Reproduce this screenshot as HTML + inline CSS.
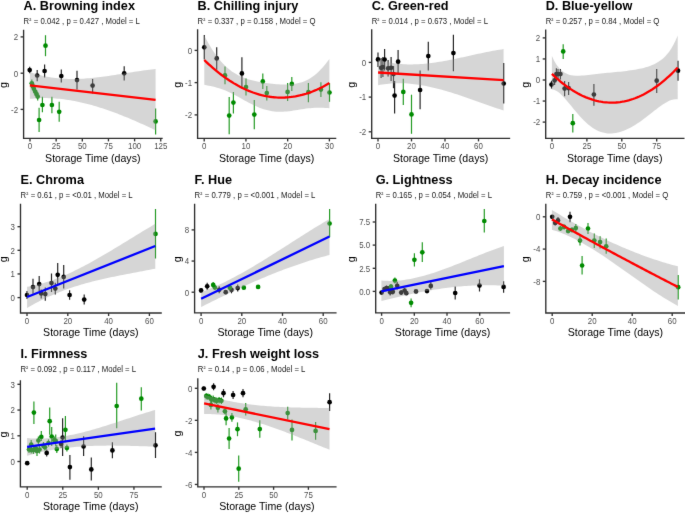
<!DOCTYPE html>
<html><head><meta charset="utf-8"><style>
html,body{margin:0;padding:0;background:#fff;}
svg{display:block;}
text{font-family:"Liberation Sans",sans-serif;}
.ti{font-size:12.7px;font-weight:bold;fill:#000;}
.st{font-size:8.2px;fill:#1a1a1a;}
.sup{font-size:6.6px;}
.tk{font-size:9.2px;fill:#4d4d4d;}
.ax{font-size:10.6px;fill:#000;}
</style></head><body>
<svg width="685" height="513" viewBox="0 0 685 513">
<defs><filter id="soft" x="0" y="0" width="685" height="513" filterUnits="userSpaceOnUse" color-interpolation-filters="sRGB"><feConvolveMatrix order="3" kernelMatrix="1 12 1 12 144 12 1 12 1" edgeMode="duplicate"/></filter></defs>
<g filter="url(#soft)">
<rect width="685" height="513" fill="#fff"/>
<line x1="29.7" y1="66.7" x2="29.7" y2="73.3" stroke="#000000" stroke-width="1.2" stroke-opacity="0.85"/>
<circle cx="29.7" cy="70.1" r="2.35" fill="#000000"/>
<line x1="37.2" y1="69.9" x2="37.2" y2="81.3" stroke="#000000" stroke-width="1.2" stroke-opacity="0.85"/>
<circle cx="37.2" cy="75.5" r="2.35" fill="#000000"/>
<line x1="44.6" y1="64.4" x2="44.6" y2="77.4" stroke="#000000" stroke-width="1.2" stroke-opacity="0.85"/>
<circle cx="44.6" cy="71" r="2.35" fill="#000000"/>
<line x1="61.3" y1="69.4" x2="61.3" y2="82.4" stroke="#000000" stroke-width="1.2" stroke-opacity="0.85"/>
<circle cx="61.3" cy="76" r="2.35" fill="#000000"/>
<line x1="77" y1="70.8" x2="77" y2="89.4" stroke="#000000" stroke-width="1.2" stroke-opacity="0.85"/>
<circle cx="77" cy="80.1" r="2.35" fill="#000000"/>
<line x1="92.6" y1="79" x2="92.6" y2="93.4" stroke="#000000" stroke-width="1.2" stroke-opacity="0.85"/>
<circle cx="92.6" cy="85.6" r="2.35" fill="#000000"/>
<line x1="124.2" y1="66.2" x2="124.2" y2="80.4" stroke="#000000" stroke-width="1.2" stroke-opacity="0.85"/>
<circle cx="124.2" cy="73.3" r="2.35" fill="#000000"/>
<line x1="45.5" y1="35.2" x2="45.5" y2="56.2" stroke="#008b00" stroke-width="1.2" stroke-opacity="0.85"/>
<circle cx="45.5" cy="45.7" r="2.35" fill="#008b00"/>
<line x1="42.4" y1="96.8" x2="42.4" y2="112.3" stroke="#008b00" stroke-width="1.2" stroke-opacity="0.85"/>
<circle cx="42.4" cy="105" r="2.35" fill="#008b00"/>
<line x1="39.1" y1="107.7" x2="39.1" y2="132.1" stroke="#008b00" stroke-width="1.2" stroke-opacity="0.85"/>
<circle cx="39.1" cy="120" r="2.35" fill="#008b00"/>
<line x1="51.9" y1="96.8" x2="51.9" y2="113.2" stroke="#008b00" stroke-width="1.2" stroke-opacity="0.85"/>
<circle cx="51.9" cy="105" r="2.35" fill="#008b00"/>
<line x1="59.2" y1="101.8" x2="59.2" y2="121.8" stroke="#008b00" stroke-width="1.2" stroke-opacity="0.85"/>
<circle cx="59.2" cy="111.8" r="2.35" fill="#008b00"/>
<line x1="155.6" y1="108.6" x2="155.6" y2="134.4" stroke="#008b00" stroke-width="1.2" stroke-opacity="0.85"/>
<circle cx="155.6" cy="121.4" r="2.35" fill="#008b00"/>
<line x1="31.8" y1="79.4" x2="31.8" y2="87.4" stroke="#008b00" stroke-width="1.2" stroke-opacity="0.85"/>
<circle cx="31.8" cy="83.3" r="2.35" fill="#008b00"/>
<line x1="32.8" y1="82.4" x2="32.8" y2="89.9" stroke="#008b00" stroke-width="1.2" stroke-opacity="0.85"/>
<circle cx="32.8" cy="86.2" r="2.35" fill="#008b00"/>
<line x1="33.8" y1="84.9" x2="33.8" y2="92.4" stroke="#008b00" stroke-width="1.2" stroke-opacity="0.85"/>
<circle cx="33.8" cy="88.7" r="2.35" fill="#008b00"/>
<line x1="35.2" y1="87.9" x2="35.2" y2="95.4" stroke="#008b00" stroke-width="1.2" stroke-opacity="0.85"/>
<circle cx="35.2" cy="91.6" r="2.35" fill="#008b00"/>
<line x1="36.5" y1="90.4" x2="36.5" y2="97.9" stroke="#008b00" stroke-width="1.2" stroke-opacity="0.85"/>
<circle cx="36.5" cy="94" r="2.35" fill="#008b00"/>
<line x1="37.7" y1="92.9" x2="37.7" y2="100.4" stroke="#008b00" stroke-width="1.2" stroke-opacity="0.85"/>
<circle cx="37.7" cy="96.5" r="2.35" fill="#008b00"/>
<polygon points="29.9,71.95 32.03,72.71 34.16,73.41 36.29,74.07 38.42,74.68 40.55,75.25 42.68,75.77 44.81,76.24 46.94,76.68 49.07,77.07 51.21,77.42 53.34,77.74 55.47,78.01 57.6,78.25 59.73,78.45 61.86,78.62 63.99,78.76 66.12,78.86 68.25,78.93 70.38,78.97 72.51,78.99 74.64,78.97 76.77,78.93 78.9,78.86 81.03,78.77 83.16,78.66 85.29,78.52 87.42,78.36 89.55,78.18 91.68,77.99 93.82,77.77 95.95,77.54 98.08,77.3 100.21,77.04 102.34,76.76 104.47,76.48 106.6,76.18 108.73,75.88 110.86,75.56 112.99,75.24 115.12,74.91 117.25,74.58 119.38,74.24 121.51,73.9 123.64,73.56 125.77,73.21 127.9,72.87 130.03,72.53 132.16,72.19 134.29,71.86 136.43,71.53 138.56,71.2 140.69,70.89 142.82,70.58 144.95,70.28 147.08,69.99 149.21,69.71 151.34,69.45 153.47,69.2 155.6,68.97 155.6,130.28 153.47,129.28 151.34,128.28 149.21,127.28 147.08,126.3 144.95,125.32 142.82,124.36 140.69,123.4 138.56,122.45 136.43,121.51 134.29,120.58 132.16,119.67 130.03,118.76 127.9,117.87 125.77,116.99 123.64,116.13 121.51,115.28 119.38,114.44 117.25,113.62 115.12,112.81 112.99,112.02 110.86,111.24 108.73,110.48 106.6,109.74 104.47,109.02 102.34,108.31 100.21,107.63 98.08,106.96 95.95,106.32 93.82,105.69 91.68,105.08 89.55,104.5 87.42,103.94 85.29,103.4 83.16,102.88 81.03,102.39 78.9,101.92 76.77,101.47 74.64,101.05 72.51,100.66 70.38,100.29 68.25,99.94 66.12,99.63 63.99,99.34 61.86,99.08 59.73,98.85 57.6,98.64 55.47,98.47 53.34,98.32 51.21,98.21 49.07,98.13 46.94,98.08 44.81,98.06 42.68,98.07 40.55,98.12 38.42,98.2 36.29,98.31 34.16,98.46 32.03,98.64 29.9,98.86" fill="#999999" fill-opacity="0.4"/>
<path d="M29.9,85.4 L155.6,99.8" fill="none" stroke="#ff0000" stroke-width="2.3" stroke-linejoin="round"/>
<path d="M23.6,30.3 L23.6,138.4 L162,138.4" fill="none" stroke="#2e2e2e" stroke-width="1.35" stroke-linecap="square"/>
<line x1="20.6" y1="36.9" x2="23.6" y2="36.9" stroke="#333333" stroke-width="1.35"/>
<text transform="translate(18.1,40.2) scale(0.86,1)" text-anchor="end" class="tk">2</text>
<line x1="20.6" y1="73.2" x2="23.6" y2="73.2" stroke="#333333" stroke-width="1.35"/>
<text transform="translate(18.1,76.5) scale(0.86,1)" text-anchor="end" class="tk">0</text>
<line x1="20.6" y1="109.4" x2="23.6" y2="109.4" stroke="#333333" stroke-width="1.35"/>
<text transform="translate(18.1,112.7) scale(0.86,1)" text-anchor="end" class="tk">-2</text>
<line x1="30" y1="138.4" x2="30" y2="141.4" stroke="#333333" stroke-width="1.35"/>
<text transform="translate(30,149.2) scale(0.86,1)" text-anchor="middle" class="tk">0</text>
<line x1="56.15" y1="138.4" x2="56.15" y2="141.4" stroke="#333333" stroke-width="1.35"/>
<text transform="translate(56.15,149.2) scale(0.86,1)" text-anchor="middle" class="tk">25</text>
<line x1="82.3" y1="138.4" x2="82.3" y2="141.4" stroke="#333333" stroke-width="1.35"/>
<text transform="translate(82.3,149.2) scale(0.86,1)" text-anchor="middle" class="tk">50</text>
<line x1="108.45" y1="138.4" x2="108.45" y2="141.4" stroke="#333333" stroke-width="1.35"/>
<text transform="translate(108.45,149.2) scale(0.86,1)" text-anchor="middle" class="tk">75</text>
<line x1="134.6" y1="138.4" x2="134.6" y2="141.4" stroke="#333333" stroke-width="1.35"/>
<text transform="translate(134.6,149.2) scale(0.86,1)" text-anchor="middle" class="tk">100</text>
<line x1="160.75" y1="138.4" x2="160.75" y2="141.4" stroke="#333333" stroke-width="1.35"/>
<text transform="translate(160.75,149.2) scale(0.86,1)" text-anchor="middle" class="tk">125</text>
<text x="92.8" y="161.6" text-anchor="middle" class="ax">Storage Time (days)</text>
<text transform="translate(7.16,84.95) rotate(-90)" text-anchor="middle" class="ax">g</text>
<text x="23.6" y="9.9" class="ti">A. Browning index</text>
<text transform="translate(23.6,23.5) scale(0.95,1)" class="st">R<tspan class="sup" dy="-1.4">²</tspan><tspan dy="1.4" dx="0.3"> </tspan>= 0.042 , p = 0.427 , Model = L</text>
<line x1="204.3" y1="35" x2="204.3" y2="59.6" stroke="#000000" stroke-width="1.2" stroke-opacity="0.85"/>
<circle cx="204.3" cy="47.3" r="2.35" fill="#000000"/>
<line x1="216.7" y1="47.3" x2="216.7" y2="69.8" stroke="#000000" stroke-width="1.2" stroke-opacity="0.85"/>
<circle cx="216.7" cy="58.4" r="2.35" fill="#000000"/>
<line x1="241.9" y1="57.3" x2="241.9" y2="88.6" stroke="#000000" stroke-width="1.2" stroke-opacity="0.85"/>
<circle cx="241.9" cy="73.4" r="2.35" fill="#000000"/>
<line x1="225" y1="66.6" x2="225" y2="84.3" stroke="#008b00" stroke-width="1.2" stroke-opacity="0.85"/>
<circle cx="225" cy="75.4" r="2.35" fill="#008b00"/>
<line x1="229.2" y1="96.9" x2="229.2" y2="134.3" stroke="#008b00" stroke-width="1.2" stroke-opacity="0.85"/>
<circle cx="229.2" cy="115.6" r="2.35" fill="#008b00"/>
<line x1="233.4" y1="92.1" x2="233.4" y2="113.6" stroke="#008b00" stroke-width="1.2" stroke-opacity="0.85"/>
<circle cx="233.4" cy="102.6" r="2.35" fill="#008b00"/>
<line x1="246" y1="78.4" x2="246" y2="95.6" stroke="#008b00" stroke-width="1.2" stroke-opacity="0.85"/>
<circle cx="246" cy="87.1" r="2.35" fill="#008b00"/>
<line x1="254.3" y1="99.9" x2="254.3" y2="129.2" stroke="#008b00" stroke-width="1.2" stroke-opacity="0.85"/>
<circle cx="254.3" cy="114.6" r="2.35" fill="#008b00"/>
<line x1="262.8" y1="73.6" x2="262.8" y2="89.1" stroke="#008b00" stroke-width="1.2" stroke-opacity="0.85"/>
<circle cx="262.8" cy="81.4" r="2.35" fill="#008b00"/>
<line x1="266.8" y1="86.1" x2="266.8" y2="100.4" stroke="#008b00" stroke-width="1.2" stroke-opacity="0.85"/>
<circle cx="266.8" cy="93.1" r="2.35" fill="#008b00"/>
<line x1="287.6" y1="82.9" x2="287.6" y2="100.9" stroke="#008b00" stroke-width="1.2" stroke-opacity="0.85"/>
<circle cx="287.6" cy="91.9" r="2.35" fill="#008b00"/>
<line x1="291.8" y1="76.9" x2="291.8" y2="91.1" stroke="#008b00" stroke-width="1.2" stroke-opacity="0.85"/>
<circle cx="291.8" cy="83.9" r="2.35" fill="#008b00"/>
<line x1="308.4" y1="83.1" x2="308.4" y2="102.3" stroke="#008b00" stroke-width="1.2" stroke-opacity="0.85"/>
<circle cx="308.4" cy="92.2" r="2.35" fill="#008b00"/>
<line x1="320.9" y1="82.3" x2="320.9" y2="97" stroke="#008b00" stroke-width="1.2" stroke-opacity="0.85"/>
<circle cx="320.9" cy="89.6" r="2.35" fill="#008b00"/>
<line x1="329.5" y1="83.1" x2="329.5" y2="101.8" stroke="#008b00" stroke-width="1.2" stroke-opacity="0.85"/>
<circle cx="329.5" cy="92.5" r="2.35" fill="#008b00"/>
<polygon points="204.3,35.65 206.42,39.67 208.54,43.48 210.66,47.07 212.78,50.44 214.9,53.59 217.02,56.52 219.14,59.24 221.26,61.74 223.38,64.04 225.5,66.15 227.62,68.07 229.74,69.82 231.86,71.4 233.98,72.83 236.11,74.11 238.23,75.27 240.35,76.3 242.47,77.22 244.59,78.05 246.71,78.79 248.83,79.46 250.95,80.05 253.07,80.59 255.19,81.08 257.31,81.52 259.43,81.92 261.55,82.29 263.67,82.64 265.79,82.95 267.91,83.25 270.03,83.51 272.15,83.76 274.27,83.98 276.39,84.17 278.51,84.34 280.63,84.46 282.75,84.55 284.87,84.59 286.99,84.57 289.11,84.49 291.23,84.34 293.35,84.11 295.47,83.79 297.59,83.37 299.72,82.84 301.84,82.19 303.96,81.4 306.08,80.48 308.2,79.4 310.32,78.17 312.44,76.77 314.56,75.19 316.68,73.43 318.8,71.48 320.92,69.35 323.04,67.02 325.16,64.5 327.28,61.8 329.4,58.91 329.4,108.14 327.28,108.03 325.16,107.92 323.04,107.83 320.92,107.76 318.8,107.74 316.68,107.76 314.56,107.84 312.44,107.96 310.32,108.14 308.2,108.36 306.08,108.62 303.96,108.92 301.84,109.24 299.72,109.58 297.59,109.92 295.47,110.26 293.35,110.59 291.23,110.9 289.11,111.17 286.99,111.4 284.87,111.58 282.75,111.7 280.63,111.75 278.51,111.73 276.39,111.63 274.27,111.44 272.15,111.17 270.03,110.81 267.91,110.36 265.79,109.81 263.67,109.18 261.55,108.47 259.43,107.67 257.31,106.8 255.19,105.86 253.07,104.85 250.95,103.79 248.83,102.69 246.71,101.55 244.59,100.39 242.47,99.21 240.35,98.04 238.23,96.87 236.11,95.72 233.98,94.6 231.86,93.52 229.74,92.49 227.62,91.51 225.5,90.6 223.38,89.76 221.26,88.99 219.14,88.29 217.02,87.65 214.9,87.09 212.78,86.57 210.66,86.1 208.54,85.66 206.42,85.22 204.3,84.75" fill="#999999" fill-opacity="0.4"/>
<path d="M204.3,60.03 L206.42,62.07 L208.54,64.05 L210.66,65.97 L212.78,67.83 L214.9,69.64 L217.02,71.39 L219.14,73.09 L221.26,74.73 L223.38,76.31 L225.5,77.84 L227.62,79.3 L229.74,80.72 L231.86,82.07 L233.98,83.37 L236.11,84.61 L238.23,85.8 L240.35,86.92 L242.47,87.99 L244.59,89.01 L246.71,89.97 L248.83,90.87 L250.95,91.71 L253.07,92.5 L255.19,93.23 L257.31,93.91 L259.43,94.52 L261.55,95.08 L263.67,95.59 L265.79,96.03 L267.91,96.42 L270.03,96.76 L272.15,97.04 L274.27,97.26 L276.39,97.42 L278.51,97.53 L280.63,97.58 L282.75,97.57 L284.87,97.51 L286.99,97.39 L289.11,97.21 L291.23,96.98 L293.35,96.69 L295.47,96.34 L297.59,95.93 L299.72,95.47 L301.84,94.96 L303.96,94.38 L306.08,93.75 L308.2,93.06 L310.32,92.32 L312.44,91.52 L314.56,90.66 L316.68,89.75 L318.8,88.78 L320.92,87.75 L323.04,86.66 L325.16,85.52 L327.28,84.32 L329.4,83.07" fill="none" stroke="#ff0000" stroke-width="2.3" stroke-linejoin="round"/>
<path d="M197.6,30 L197.6,138.4 L335.6,138.4" fill="none" stroke="#2e2e2e" stroke-width="1.35" stroke-linecap="square"/>
<line x1="194.6" y1="50.4" x2="197.6" y2="50.4" stroke="#333333" stroke-width="1.35"/>
<text transform="translate(192.1,53.7) scale(0.86,1)" text-anchor="end" class="tk">0</text>
<line x1="194.6" y1="82.6" x2="197.6" y2="82.6" stroke="#333333" stroke-width="1.35"/>
<text transform="translate(192.1,85.9) scale(0.86,1)" text-anchor="end" class="tk">-1</text>
<line x1="194.6" y1="114.9" x2="197.6" y2="114.9" stroke="#333333" stroke-width="1.35"/>
<text transform="translate(192.1,118.2) scale(0.86,1)" text-anchor="end" class="tk">-2</text>
<line x1="204.2" y1="138.4" x2="204.2" y2="141.4" stroke="#333333" stroke-width="1.35"/>
<text transform="translate(204.2,149.2) scale(0.86,1)" text-anchor="middle" class="tk">0</text>
<line x1="245.93" y1="138.4" x2="245.93" y2="141.4" stroke="#333333" stroke-width="1.35"/>
<text transform="translate(245.93,149.2) scale(0.86,1)" text-anchor="middle" class="tk">10</text>
<line x1="287.66" y1="138.4" x2="287.66" y2="141.4" stroke="#333333" stroke-width="1.35"/>
<text transform="translate(287.66,149.2) scale(0.86,1)" text-anchor="middle" class="tk">20</text>
<line x1="329.39" y1="138.4" x2="329.39" y2="141.4" stroke="#333333" stroke-width="1.35"/>
<text transform="translate(329.39,149.2) scale(0.86,1)" text-anchor="middle" class="tk">30</text>
<text x="266.6" y="161.6" text-anchor="middle" class="ax">Storage Time (days)</text>
<text transform="translate(181.16,84.8) rotate(-90)" text-anchor="middle" class="ax">g</text>
<text x="197.6" y="9.9" class="ti">B. Chilling injury</text>
<text transform="translate(197.6,23.5) scale(0.95,1)" class="st">R<tspan class="sup" dy="-1.4">²</tspan><tspan dy="1.4" dx="0.3"> </tspan>= 0.337 , p = 0.158 , Model = Q</text>
<line x1="378" y1="52.6" x2="378" y2="67.1" stroke="#000000" stroke-width="1.2" stroke-opacity="0.85"/>
<circle cx="378" cy="59.4" r="2.35" fill="#000000"/>
<line x1="384.6" y1="48.9" x2="384.6" y2="70.6" stroke="#000000" stroke-width="1.2" stroke-opacity="0.85"/>
<circle cx="384.6" cy="59.6" r="2.35" fill="#000000"/>
<line x1="398.1" y1="50" x2="398.1" y2="73" stroke="#000000" stroke-width="1.2" stroke-opacity="0.85"/>
<circle cx="398.1" cy="61.7" r="2.35" fill="#000000"/>
<line x1="394.6" y1="81.1" x2="394.6" y2="113.4" stroke="#000000" stroke-width="1.2" stroke-opacity="0.85"/>
<circle cx="394.6" cy="95.6" r="2.35" fill="#000000"/>
<line x1="428.3" y1="41.8" x2="428.3" y2="70.6" stroke="#000000" stroke-width="1.2" stroke-opacity="0.85"/>
<circle cx="428.3" cy="56.1" r="2.35" fill="#000000"/>
<line x1="453.4" y1="34.8" x2="453.4" y2="71.3" stroke="#000000" stroke-width="1.2" stroke-opacity="0.85"/>
<circle cx="453.4" cy="53.1" r="2.35" fill="#000000"/>
<line x1="503.7" y1="62.9" x2="503.7" y2="103.4" stroke="#000000" stroke-width="1.2" stroke-opacity="0.85"/>
<circle cx="503.7" cy="83.5" r="2.35" fill="#000000"/>
<line x1="381.1" y1="58" x2="381.1" y2="78" stroke="#000000" stroke-width="1.2" stroke-opacity="0.85"/>
<circle cx="381.1" cy="67.8" r="2.35" fill="#000000"/>
<line x1="382.9" y1="57" x2="382.9" y2="77" stroke="#000000" stroke-width="1.2" stroke-opacity="0.85"/>
<circle cx="382.9" cy="67.1" r="2.35" fill="#000000"/>
<line x1="388.1" y1="60" x2="388.1" y2="76.5" stroke="#000000" stroke-width="1.2" stroke-opacity="0.85"/>
<circle cx="388.1" cy="68.3" r="2.35" fill="#000000"/>
<line x1="391.1" y1="57" x2="391.1" y2="81" stroke="#000000" stroke-width="1.2" stroke-opacity="0.85"/>
<circle cx="391.1" cy="67.8" r="2.35" fill="#000000"/>
<line x1="393.5" y1="66" x2="393.5" y2="88.2" stroke="#000000" stroke-width="1.2" stroke-opacity="0.85"/>
<circle cx="393.5" cy="74.1" r="2.35" fill="#000000"/>
<line x1="420.1" y1="70.6" x2="420.1" y2="109.2" stroke="#000000" stroke-width="1.2" stroke-opacity="0.85"/>
<circle cx="420.1" cy="90" r="2.35" fill="#000000"/>
<line x1="403.3" y1="78.8" x2="403.3" y2="105" stroke="#008b00" stroke-width="1.2" stroke-opacity="0.85"/>
<circle cx="403.3" cy="91.9" r="2.35" fill="#008b00"/>
<line x1="411.5" y1="94.7" x2="411.5" y2="133.8" stroke="#008b00" stroke-width="1.2" stroke-opacity="0.85"/>
<circle cx="411.5" cy="114.4" r="2.35" fill="#008b00"/>
<polygon points="378.1,59.67 380.23,60.31 382.35,60.9 384.48,61.44 386.61,61.93 388.74,62.37 390.86,62.77 392.99,63.12 395.12,63.42 397.24,63.68 399.37,63.9 401.5,64.08 403.63,64.22 405.75,64.32 407.88,64.39 410.01,64.42 412.13,64.41 414.26,64.37 416.39,64.3 418.52,64.2 420.64,64.07 422.77,63.91 424.9,63.72 427.02,63.51 429.15,63.27 431.28,63.01 433.41,62.73 435.53,62.42 437.66,62.1 439.79,61.76 441.91,61.4 444.04,61.02 446.17,60.63 448.29,60.23 450.42,59.81 452.55,59.39 454.68,58.95 456.8,58.51 458.93,58.05 461.06,57.6 463.18,57.13 465.31,56.67 467.44,56.2 469.57,55.73 471.69,55.26 473.82,54.79 475.95,54.32 478.07,53.86 480.2,53.4 482.33,52.95 484.46,52.51 486.58,52.08 488.71,51.65 490.84,51.24 492.96,50.84 495.09,50.45 497.22,50.08 499.35,49.73 501.47,49.39 503.6,49.07 503.6,110.53 501.47,109.83 499.35,109.12 497.22,108.41 495.09,107.68 492.96,106.95 490.84,106.21 488.71,105.47 486.58,104.72 484.46,103.97 482.33,103.21 480.2,102.46 478.07,101.7 475.95,100.94 473.82,100.19 471.69,99.44 469.57,98.69 467.44,97.95 465.31,97.22 463.18,96.49 461.06,95.77 458.93,95.06 456.8,94.36 454.68,93.67 452.55,92.99 450.42,92.33 448.29,91.68 446.17,91.05 444.04,90.43 441.91,89.84 439.79,89.26 437.66,88.69 435.53,88.16 433.41,87.64 431.28,87.14 429.15,86.67 427.02,86.23 424.9,85.81 422.77,85.41 420.64,85.05 418.52,84.71 416.39,84.41 414.26,84.14 412.13,83.89 410.01,83.69 407.88,83.51 405.75,83.37 403.63,83.27 401.5,83.21 399.37,83.18 397.24,83.2 395.12,83.25 392.99,83.35 390.86,83.49 388.74,83.67 386.61,83.9 384.48,84.18 382.35,84.5 380.23,84.87 378.1,85.29" fill="#999999" fill-opacity="0.4"/>
<path d="M378.1,72.5 L503.6,80.2" fill="none" stroke="#ff0000" stroke-width="2.3" stroke-linejoin="round"/>
<path d="M371.7,29.8 L371.7,138.4 L509.5,138.4" fill="none" stroke="#2e2e2e" stroke-width="1.35" stroke-linecap="square"/>
<line x1="368.7" y1="62.4" x2="371.7" y2="62.4" stroke="#333333" stroke-width="1.35"/>
<text transform="translate(366.2,65.7) scale(0.86,1)" text-anchor="end" class="tk">0</text>
<line x1="368.7" y1="97.1" x2="371.7" y2="97.1" stroke="#333333" stroke-width="1.35"/>
<text transform="translate(366.2,100.4) scale(0.86,1)" text-anchor="end" class="tk">-1</text>
<line x1="368.7" y1="131.8" x2="371.7" y2="131.8" stroke="#333333" stroke-width="1.35"/>
<text transform="translate(366.2,135.1) scale(0.86,1)" text-anchor="end" class="tk">-2</text>
<line x1="378" y1="138.4" x2="378" y2="141.4" stroke="#333333" stroke-width="1.35"/>
<text transform="translate(378,149.2) scale(0.86,1)" text-anchor="middle" class="tk">0</text>
<line x1="411.5" y1="138.4" x2="411.5" y2="141.4" stroke="#333333" stroke-width="1.35"/>
<text transform="translate(411.5,149.2) scale(0.86,1)" text-anchor="middle" class="tk">20</text>
<line x1="445" y1="138.4" x2="445" y2="141.4" stroke="#333333" stroke-width="1.35"/>
<text transform="translate(445,149.2) scale(0.86,1)" text-anchor="middle" class="tk">40</text>
<line x1="478.5" y1="138.4" x2="478.5" y2="141.4" stroke="#333333" stroke-width="1.35"/>
<text transform="translate(478.5,149.2) scale(0.86,1)" text-anchor="middle" class="tk">60</text>
<text x="440.6" y="161.6" text-anchor="middle" class="ax">Storage Time (days)</text>
<text transform="translate(355.26,84.7) rotate(-90)" text-anchor="middle" class="ax">g</text>
<text x="371.7" y="9.9" class="ti">C. Green-red</text>
<text transform="translate(371.7,23.5) scale(0.95,1)" class="st">R<tspan class="sup" dy="-1.4">²</tspan><tspan dy="1.4" dx="0.3"> </tspan>= 0.014 , p = 0.673 , Model = L</text>
<line x1="551.5" y1="80.7" x2="551.5" y2="88.6" stroke="#000000" stroke-width="1.2" stroke-opacity="0.85"/>
<circle cx="551.5" cy="84.6" r="2.35" fill="#000000"/>
<line x1="554.6" y1="75" x2="554.6" y2="85" stroke="#000000" stroke-width="1.2" stroke-opacity="0.85"/>
<circle cx="554.6" cy="80.4" r="2.35" fill="#000000"/>
<line x1="556.4" y1="68.3" x2="556.4" y2="81.1" stroke="#000000" stroke-width="1.2" stroke-opacity="0.85"/>
<circle cx="556.4" cy="74.1" r="2.35" fill="#000000"/>
<line x1="558" y1="69" x2="558" y2="80" stroke="#000000" stroke-width="1.2" stroke-opacity="0.85"/>
<circle cx="558" cy="74.1" r="2.35" fill="#000000"/>
<line x1="560.4" y1="69" x2="560.4" y2="79.5" stroke="#000000" stroke-width="1.2" stroke-opacity="0.85"/>
<circle cx="560.4" cy="74.1" r="2.35" fill="#000000"/>
<line x1="564.6" y1="81.1" x2="564.6" y2="96.3" stroke="#000000" stroke-width="1.2" stroke-opacity="0.85"/>
<circle cx="564.6" cy="88.6" r="2.35" fill="#000000"/>
<line x1="568.6" y1="82" x2="568.6" y2="95" stroke="#000000" stroke-width="1.2" stroke-opacity="0.85"/>
<circle cx="568.6" cy="88.2" r="2.35" fill="#000000"/>
<line x1="593.9" y1="84" x2="593.9" y2="105.7" stroke="#000000" stroke-width="1.2" stroke-opacity="0.85"/>
<circle cx="593.9" cy="94.5" r="2.35" fill="#000000"/>
<line x1="656.7" y1="69" x2="656.7" y2="92.9" stroke="#000000" stroke-width="1.2" stroke-opacity="0.85"/>
<circle cx="656.7" cy="80.7" r="2.35" fill="#000000"/>
<line x1="678" y1="60.8" x2="678" y2="80.7" stroke="#000000" stroke-width="1.2" stroke-opacity="0.85"/>
<circle cx="678" cy="70.7" r="2.35" fill="#000000"/>
<line x1="563.2" y1="44.2" x2="563.2" y2="58.9" stroke="#008b00" stroke-width="1.2" stroke-opacity="0.85"/>
<circle cx="563.2" cy="51.4" r="2.35" fill="#008b00"/>
<line x1="572.8" y1="113.9" x2="572.8" y2="132.6" stroke="#008b00" stroke-width="1.2" stroke-opacity="0.85"/>
<circle cx="572.8" cy="123.2" r="2.35" fill="#008b00"/>
<polygon points="551.9,56 554.03,60.46 556.16,64.13 558.3,67.1 560.43,69.48 562.56,71.35 564.69,72.79 566.83,73.87 568.96,74.64 571.09,75.18 573.22,75.51 575.35,75.68 577.49,75.73 579.62,75.68 581.75,75.56 583.88,75.39 586.02,75.18 588.15,74.95 590.28,74.71 592.41,74.46 594.54,74.22 596.68,73.97 598.81,73.74 600.94,73.51 603.07,73.29 605.21,73.08 607.34,72.87 609.47,72.67 611.6,72.47 613.73,72.26 615.87,72.06 618,71.85 620.13,71.63 622.26,71.39 624.39,71.15 626.53,70.89 628.66,70.62 630.79,70.32 632.92,70 635.06,69.65 637.19,69.27 639.32,68.85 641.45,68.39 643.58,67.88 645.72,67.31 647.85,66.67 649.98,65.95 652.11,65.12 654.25,64.17 656.38,63.08 658.51,61.81 660.64,60.34 662.77,58.64 664.91,56.65 667.04,54.33 669.17,51.63 671.3,48.48 673.44,44.82 675.57,40.56 677.7,35.62 677.7,99.36 675.57,99.23 673.44,99.48 671.3,100.04 669.17,100.86 667.04,101.9 664.91,103.13 662.77,104.49 660.64,105.97 658.51,107.53 656.38,109.15 654.25,110.8 652.11,112.48 649.98,114.16 647.85,115.82 645.72,117.47 643.58,119.07 641.45,120.63 639.32,122.14 637.19,123.58 635.06,124.96 632.92,126.25 630.79,127.46 628.66,128.58 626.53,129.61 624.39,130.53 622.26,131.34 620.13,132.03 618,132.6 615.87,133.04 613.73,133.35 611.6,133.51 609.47,133.52 607.34,133.38 605.21,133.08 603.07,132.61 600.94,131.97 598.81,131.15 596.68,130.16 594.54,128.98 592.41,127.63 590.28,126.1 588.15,124.39 586.02,122.52 583.88,120.48 581.75,118.3 579.62,115.98 577.49,113.55 575.35,111.03 573.22,108.44 571.09,105.83 568.96,103.22 566.83,100.67 564.69,98.22 562.56,95.93 560.43,93.87 558.3,92.12 556.16,90.75 554.03,89.87 551.9,89.57" fill="#999999" fill-opacity="0.4"/>
<path d="M551.9,73.92 L554.03,75.93 L556.16,77.87 L558.3,79.74 L560.43,81.53 L562.56,83.25 L564.69,84.89 L566.83,86.47 L568.96,87.97 L571.09,89.39 L573.22,90.75 L575.35,92.03 L577.49,93.24 L579.62,94.37 L581.75,95.43 L583.88,96.42 L586.02,97.34 L588.15,98.18 L590.28,98.95 L592.41,99.65 L594.54,100.27 L596.68,100.82 L598.81,101.3 L600.94,101.7 L603.07,102.03 L605.21,102.29 L607.34,102.47 L609.47,102.59 L611.6,102.62 L613.73,102.59 L615.87,102.48 L618,102.3 L620.13,102.05 L622.26,101.72 L624.39,101.32 L626.53,100.85 L628.66,100.3 L630.79,99.68 L632.92,98.99 L635.06,98.23 L637.19,97.39 L639.32,96.48 L641.45,95.49 L643.58,94.44 L645.72,93.31 L647.85,92.1 L649.98,90.83 L652.11,89.48 L654.25,88.05 L656.38,86.56 L658.51,84.99 L660.64,83.35 L662.77,81.63 L664.91,79.84 L667.04,77.98 L669.17,76.05 L671.3,74.04 L673.44,71.96 L675.57,69.8 L677.7,67.58" fill="none" stroke="#ff0000" stroke-width="2.3" stroke-linejoin="round"/>
<path d="M545.7,30.1 L545.7,138.4 L683.8,138.4" fill="none" stroke="#2e2e2e" stroke-width="1.35" stroke-linecap="square"/>
<line x1="542.7" y1="37.9" x2="545.7" y2="37.9" stroke="#333333" stroke-width="1.35"/>
<text transform="translate(540.2,41.2) scale(0.86,1)" text-anchor="end" class="tk">2</text>
<line x1="542.7" y1="58.95" x2="545.7" y2="58.95" stroke="#333333" stroke-width="1.35"/>
<text transform="translate(540.2,62.25) scale(0.86,1)" text-anchor="end" class="tk">1</text>
<line x1="542.7" y1="80" x2="545.7" y2="80" stroke="#333333" stroke-width="1.35"/>
<text transform="translate(540.2,83.3) scale(0.86,1)" text-anchor="end" class="tk">0</text>
<line x1="542.7" y1="101.05" x2="545.7" y2="101.05" stroke="#333333" stroke-width="1.35"/>
<text transform="translate(540.2,104.35) scale(0.86,1)" text-anchor="end" class="tk">-1</text>
<line x1="542.7" y1="122.1" x2="545.7" y2="122.1" stroke="#333333" stroke-width="1.35"/>
<text transform="translate(540.2,125.4) scale(0.86,1)" text-anchor="end" class="tk">-2</text>
<line x1="552" y1="138.4" x2="552" y2="141.4" stroke="#333333" stroke-width="1.35"/>
<text transform="translate(552,149.2) scale(0.86,1)" text-anchor="middle" class="tk">0</text>
<line x1="586.9" y1="138.4" x2="586.9" y2="141.4" stroke="#333333" stroke-width="1.35"/>
<text transform="translate(586.9,149.2) scale(0.86,1)" text-anchor="middle" class="tk">25</text>
<line x1="621.8" y1="138.4" x2="621.8" y2="141.4" stroke="#333333" stroke-width="1.35"/>
<text transform="translate(621.8,149.2) scale(0.86,1)" text-anchor="middle" class="tk">50</text>
<line x1="656.7" y1="138.4" x2="656.7" y2="141.4" stroke="#333333" stroke-width="1.35"/>
<text transform="translate(656.7,149.2) scale(0.86,1)" text-anchor="middle" class="tk">75</text>
<text x="614.75" y="161.6" text-anchor="middle" class="ax">Storage Time (days)</text>
<text transform="translate(529.26,84.85) rotate(-90)" text-anchor="middle" class="ax">g</text>
<text x="545.7" y="9.9" class="ti">D. Blue-yellow</text>
<text transform="translate(545.7,23.5) scale(0.95,1)" class="st">R<tspan class="sup" dy="-1.4">²</tspan><tspan dy="1.4" dx="0.3"> </tspan>= 0.257 , p = 0.84 , Model = Q</text>
<line x1="27" y1="291" x2="27" y2="299.1" stroke="#000000" stroke-width="1.2" stroke-opacity="0.85"/>
<circle cx="27" cy="295" r="2.35" fill="#000000"/>
<line x1="57.7" y1="263" x2="57.7" y2="284.1" stroke="#000000" stroke-width="1.2" stroke-opacity="0.85"/>
<circle cx="57.7" cy="274.8" r="2.35" fill="#000000"/>
<line x1="69.6" y1="290.3" x2="69.6" y2="299.8" stroke="#000000" stroke-width="1.2" stroke-opacity="0.85"/>
<circle cx="69.6" cy="295" r="2.35" fill="#000000"/>
<line x1="84.2" y1="294.4" x2="84.2" y2="304.6" stroke="#000000" stroke-width="1.2" stroke-opacity="0.85"/>
<circle cx="84.2" cy="299.6" r="2.35" fill="#000000"/>
<line x1="33" y1="278.7" x2="33" y2="293.7" stroke="#000000" stroke-width="1.2" stroke-opacity="0.85"/>
<circle cx="33" cy="287.1" r="2.35" fill="#000000"/>
<line x1="39.2" y1="276" x2="39.2" y2="291" stroke="#000000" stroke-width="1.2" stroke-opacity="0.85"/>
<circle cx="39.2" cy="284.1" r="2.35" fill="#000000"/>
<line x1="41.2" y1="289.6" x2="41.2" y2="298.5" stroke="#000000" stroke-width="1.2" stroke-opacity="0.85"/>
<circle cx="41.2" cy="293.4" r="2.35" fill="#000000"/>
<line x1="45.3" y1="287.5" x2="45.3" y2="300.8" stroke="#000000" stroke-width="1.2" stroke-opacity="0.85"/>
<circle cx="45.3" cy="294.1" r="2.35" fill="#000000"/>
<line x1="51.5" y1="273.5" x2="51.5" y2="292" stroke="#000000" stroke-width="1.2" stroke-opacity="0.85"/>
<circle cx="51.5" cy="283" r="2.35" fill="#000000"/>
<line x1="55.3" y1="282.8" x2="55.3" y2="294.4" stroke="#000000" stroke-width="1.2" stroke-opacity="0.85"/>
<circle cx="55.3" cy="288.6" r="2.35" fill="#000000"/>
<line x1="63.7" y1="265" x2="63.7" y2="288.5" stroke="#000000" stroke-width="1.2" stroke-opacity="0.85"/>
<circle cx="63.7" cy="276.9" r="2.35" fill="#000000"/>
<line x1="155.5" y1="209" x2="155.5" y2="258.5" stroke="#008b00" stroke-width="1.2" stroke-opacity="0.85"/>
<circle cx="155.5" cy="233.9" r="2.35" fill="#008b00"/>
<polygon points="27.1,286.76 29.27,286.4 31.45,285.99 33.62,285.55 35.79,285.07 37.96,284.55 40.14,283.99 42.31,283.39 44.48,282.76 46.66,282.09 48.83,281.39 51,280.65 53.17,279.88 55.35,279.08 57.52,278.25 59.69,277.39 61.87,276.5 64.04,275.58 66.21,274.64 68.38,273.67 70.56,272.67 72.73,271.65 74.9,270.61 77.08,269.54 79.25,268.45 81.42,267.34 83.59,266.22 85.77,265.07 87.94,263.9 90.11,262.72 92.29,261.52 94.46,260.31 96.63,259.08 98.81,257.84 100.98,256.59 103.15,255.32 105.32,254.04 107.5,252.76 109.67,251.46 111.84,250.16 114.02,248.85 116.19,247.54 118.36,246.22 120.53,244.89 122.71,243.56 124.88,242.23 127.05,240.9 129.23,239.57 131.4,238.23 133.57,236.9 135.74,235.57 137.92,234.25 140.09,232.92 142.26,231.61 144.44,230.3 146.61,228.99 148.78,227.69 150.95,226.4 153.13,225.12 155.3,223.85 155.3,268.64 153.13,269.07 150.95,269.5 148.78,269.92 146.61,270.34 144.44,270.76 142.26,271.17 140.09,271.58 137.92,271.99 135.74,272.4 133.57,272.81 131.4,273.22 129.23,273.64 127.05,274.05 124.88,274.47 122.71,274.89 120.53,275.32 118.36,275.75 116.19,276.19 114.02,276.64 111.84,277.09 109.67,277.55 107.5,278.02 105.32,278.5 103.15,278.99 100.98,279.49 98.81,280 96.63,280.53 94.46,281.06 92.29,281.61 90.11,282.18 87.94,282.76 85.77,283.36 83.59,283.97 81.42,284.6 79.25,285.25 77.08,285.92 74.9,286.6 72.73,287.31 70.56,288.04 68.38,288.79 66.21,289.56 64.04,290.35 61.87,291.17 59.69,292.01 57.52,292.88 55.35,293.77 53.17,294.69 51,295.64 48.83,296.61 46.66,297.62 44.48,298.65 42.31,299.71 40.14,300.81 37.96,301.93 35.79,303.09 33.62,304.28 31.45,305.5 29.27,306.76 27.1,308.05" fill="#999999" fill-opacity="0.4"/>
<path d="M27.1,297 L155.3,246" fill="none" stroke="#0000ff" stroke-width="2.3" stroke-linejoin="round"/>
<path d="M20.5,204.5 L20.5,313 L161.1,313" fill="none" stroke="#2e2e2e" stroke-width="1.35" stroke-linecap="square"/>
<line x1="17.5" y1="226.7" x2="20.5" y2="226.7" stroke="#333333" stroke-width="1.35"/>
<text transform="translate(15,230) scale(0.86,1)" text-anchor="end" class="tk">3</text>
<line x1="17.5" y1="250.3" x2="20.5" y2="250.3" stroke="#333333" stroke-width="1.35"/>
<text transform="translate(15,253.6) scale(0.86,1)" text-anchor="end" class="tk">2</text>
<line x1="17.5" y1="273.95" x2="20.5" y2="273.95" stroke="#333333" stroke-width="1.35"/>
<text transform="translate(15,277.25) scale(0.86,1)" text-anchor="end" class="tk">1</text>
<line x1="17.5" y1="297.6" x2="20.5" y2="297.6" stroke="#333333" stroke-width="1.35"/>
<text transform="translate(15,300.9) scale(0.86,1)" text-anchor="end" class="tk">0</text>
<line x1="27" y1="313" x2="27" y2="316" stroke="#333333" stroke-width="1.35"/>
<text transform="translate(27,323.8) scale(0.86,1)" text-anchor="middle" class="tk">0</text>
<line x1="67.8" y1="313" x2="67.8" y2="316" stroke="#333333" stroke-width="1.35"/>
<text transform="translate(67.8,323.8) scale(0.86,1)" text-anchor="middle" class="tk">20</text>
<line x1="108.6" y1="313" x2="108.6" y2="316" stroke="#333333" stroke-width="1.35"/>
<text transform="translate(108.6,323.8) scale(0.86,1)" text-anchor="middle" class="tk">40</text>
<line x1="149.4" y1="313" x2="149.4" y2="316" stroke="#333333" stroke-width="1.35"/>
<text transform="translate(149.4,323.8) scale(0.86,1)" text-anchor="middle" class="tk">60</text>
<text x="90.8" y="336.2" text-anchor="middle" class="ax">Storage Time (days)</text>
<text transform="translate(6.7,259.35) rotate(-90)" text-anchor="middle" class="ax">g</text>
<text x="20.5" y="184.2" class="ti">E. Chroma</text>
<text transform="translate(20.5,197.6) scale(0.95,1)" class="st">R<tspan class="sup" dy="-1.4">²</tspan><tspan dy="1.4" dx="0.3"> </tspan>= 0.61 , p = &lt;0.01 , Model = L</text>
<line x1="201.1" y1="288" x2="201.1" y2="293" stroke="#000000" stroke-width="1.2" stroke-opacity="0.85"/>
<circle cx="201.1" cy="290.4" r="2.35" fill="#000000"/>
<line x1="207.2" y1="282.8" x2="207.2" y2="289.8" stroke="#000000" stroke-width="1.2" stroke-opacity="0.85"/>
<circle cx="207.2" cy="286.3" r="2.35" fill="#000000"/>
<line x1="237.7" y1="284.5" x2="237.7" y2="291.6" stroke="#000000" stroke-width="1.2" stroke-opacity="0.85"/>
<circle cx="237.7" cy="288.1" r="2.35" fill="#000000"/>
<line x1="219.2" y1="286.3" x2="219.2" y2="293.3" stroke="#000000" stroke-width="1.2" stroke-opacity="0.85"/>
<circle cx="219.2" cy="289.8" r="2.35" fill="#000000"/>
<line x1="225.7" y1="290" x2="225.7" y2="294.2" stroke="#000000" stroke-width="1.2" stroke-opacity="0.85"/>
<circle cx="225.7" cy="292.2" r="2.35" fill="#000000"/>
<line x1="231.5" y1="286.3" x2="231.5" y2="293.3" stroke="#000000" stroke-width="1.2" stroke-opacity="0.85"/>
<circle cx="231.5" cy="289.8" r="2.35" fill="#000000"/>
<line x1="213.2" y1="282" x2="213.2" y2="287.5" stroke="#008b00" stroke-width="1.2" stroke-opacity="0.85"/>
<circle cx="213.2" cy="284.9" r="2.35" fill="#008b00"/>
<line x1="214.9" y1="285" x2="214.9" y2="290" stroke="#008b00" stroke-width="1.2" stroke-opacity="0.85"/>
<circle cx="214.9" cy="287.5" r="2.35" fill="#008b00"/>
<line x1="229.8" y1="285.5" x2="229.8" y2="290" stroke="#008b00" stroke-width="1.2" stroke-opacity="0.85"/>
<circle cx="229.8" cy="287.7" r="2.35" fill="#008b00"/>
<line x1="243.8" y1="287" x2="243.8" y2="288.5" stroke="#008b00" stroke-width="1.2" stroke-opacity="0.85"/>
<circle cx="243.8" cy="287.7" r="2.35" fill="#008b00"/>
<line x1="258.1" y1="286" x2="258.1" y2="288" stroke="#008b00" stroke-width="1.2" stroke-opacity="0.85"/>
<circle cx="258.1" cy="286.9" r="2.35" fill="#008b00"/>
<line x1="329.6" y1="209" x2="329.6" y2="236.9" stroke="#008b00" stroke-width="1.2" stroke-opacity="0.85"/>
<circle cx="329.6" cy="223.5" r="2.35" fill="#008b00"/>
<polygon points="201.1,292.04 203.28,291.26 205.45,290.44 207.63,289.6 209.81,288.73 211.98,287.83 214.16,286.9 216.33,285.94 218.51,284.96 220.69,283.96 222.86,282.93 225.04,281.88 227.22,280.8 229.39,279.7 231.57,278.59 233.74,277.45 235.92,276.29 238.1,275.11 240.27,273.92 242.45,272.71 244.63,271.48 246.8,270.23 248.98,268.98 251.15,267.7 253.33,266.42 255.51,265.12 257.68,263.81 259.86,262.48 262.04,261.15 264.21,259.81 266.39,258.46 268.56,257.1 270.74,255.74 272.92,254.36 275.09,252.99 277.27,251.61 279.45,250.22 281.62,248.83 283.8,247.44 285.97,246.04 288.15,244.65 290.33,243.25 292.5,241.86 294.68,240.47 296.86,239.08 299.03,237.69 301.21,236.3 303.38,234.92 305.56,233.55 307.74,232.18 309.91,230.82 312.09,229.46 314.27,228.12 316.44,226.78 318.62,225.45 320.79,224.14 322.97,222.83 325.15,221.54 327.32,220.26 329.5,218.99 329.5,255.02 327.32,255.58 325.15,256.16 322.97,256.75 320.79,257.36 318.62,257.98 316.44,258.61 314.27,259.26 312.09,259.91 309.91,260.59 307.74,261.27 305.56,261.97 303.38,262.68 301.21,263.4 299.03,264.14 296.86,264.88 294.68,265.64 292.5,266.41 290.33,267.19 288.15,267.98 285.97,268.79 283.8,269.6 281.62,270.43 279.45,271.26 277.27,272.11 275.09,272.97 272.92,273.83 270.74,274.71 268.56,275.6 266.39,276.49 264.21,277.4 262.04,278.32 259.86,279.24 257.68,280.17 255.51,281.11 253.33,282.06 251.15,283.02 248.98,283.99 246.8,284.97 244.63,285.95 242.45,286.94 240.27,287.94 238.1,288.95 235.92,289.96 233.74,290.98 231.57,292.01 229.39,293.04 227.22,294.08 225.04,295.13 222.86,296.18 220.69,297.24 218.51,298.31 216.33,299.38 214.16,300.46 211.98,301.54 209.81,302.63 207.63,303.72 205.45,304.82 203.28,305.92 201.1,307.03" fill="#999999" fill-opacity="0.4"/>
<path d="M201.1,298.8 L329.5,236.5" fill="none" stroke="#0000ff" stroke-width="2.3" stroke-linejoin="round"/>
<path d="M194.6,204.5 L194.6,312.9 L335.9,312.9" fill="none" stroke="#2e2e2e" stroke-width="1.35" stroke-linecap="square"/>
<line x1="191.6" y1="229.9" x2="194.6" y2="229.9" stroke="#333333" stroke-width="1.35"/>
<text transform="translate(189.1,233.2) scale(0.86,1)" text-anchor="end" class="tk">8</text>
<line x1="191.6" y1="261.05" x2="194.6" y2="261.05" stroke="#333333" stroke-width="1.35"/>
<text transform="translate(189.1,264.35) scale(0.86,1)" text-anchor="end" class="tk">4</text>
<line x1="191.6" y1="292.2" x2="194.6" y2="292.2" stroke="#333333" stroke-width="1.35"/>
<text transform="translate(189.1,295.5) scale(0.86,1)" text-anchor="end" class="tk">0</text>
<line x1="201.1" y1="312.9" x2="201.1" y2="315.9" stroke="#333333" stroke-width="1.35"/>
<text transform="translate(201.1,323.7) scale(0.86,1)" text-anchor="middle" class="tk">0</text>
<line x1="241.8" y1="312.9" x2="241.8" y2="315.9" stroke="#333333" stroke-width="1.35"/>
<text transform="translate(241.8,323.7) scale(0.86,1)" text-anchor="middle" class="tk">20</text>
<line x1="282.5" y1="312.9" x2="282.5" y2="315.9" stroke="#333333" stroke-width="1.35"/>
<text transform="translate(282.5,323.7) scale(0.86,1)" text-anchor="middle" class="tk">40</text>
<line x1="323.2" y1="312.9" x2="323.2" y2="315.9" stroke="#333333" stroke-width="1.35"/>
<text transform="translate(323.2,323.7) scale(0.86,1)" text-anchor="middle" class="tk">60</text>
<text x="265.25" y="336.1" text-anchor="middle" class="ax">Storage Time (days)</text>
<text transform="translate(180.8,259.3) rotate(-90)" text-anchor="middle" class="ax">g</text>
<text x="194.6" y="184.2" class="ti">F. Hue</text>
<text transform="translate(194.6,197.6) scale(0.95,1)" class="st">R<tspan class="sup" dy="-1.4">²</tspan><tspan dy="1.4" dx="0.3"> </tspan>= 0.779 , p = &lt;0.001 , Model = L</text>
<line x1="381.6" y1="291" x2="381.6" y2="294.2" stroke="#000000" stroke-width="1.2" stroke-opacity="0.85"/>
<circle cx="381.6" cy="292.6" r="2.35" fill="#000000"/>
<line x1="406.3" y1="291.5" x2="406.3" y2="295" stroke="#000000" stroke-width="1.2" stroke-opacity="0.85"/>
<circle cx="406.3" cy="293.2" r="2.35" fill="#000000"/>
<line x1="416" y1="290" x2="416" y2="293" stroke="#000000" stroke-width="1.2" stroke-opacity="0.85"/>
<circle cx="416" cy="291.4" r="2.35" fill="#000000"/>
<line x1="427" y1="289.5" x2="427" y2="292.5" stroke="#000000" stroke-width="1.2" stroke-opacity="0.85"/>
<circle cx="427" cy="291.1" r="2.35" fill="#000000"/>
<line x1="455.2" y1="286.4" x2="455.2" y2="299.6" stroke="#000000" stroke-width="1.2" stroke-opacity="0.85"/>
<circle cx="455.2" cy="293" r="2.35" fill="#000000"/>
<line x1="503.6" y1="281.3" x2="503.6" y2="292.7" stroke="#000000" stroke-width="1.2" stroke-opacity="0.85"/>
<circle cx="503.6" cy="286.9" r="2.35" fill="#000000"/>
<line x1="384.5" y1="287" x2="384.5" y2="291" stroke="#000000" stroke-width="1.2" stroke-opacity="0.85"/>
<circle cx="384.5" cy="289" r="2.35" fill="#000000"/>
<line x1="386.5" y1="285.5" x2="386.5" y2="290.5" stroke="#000000" stroke-width="1.2" stroke-opacity="0.85"/>
<circle cx="386.5" cy="288" r="2.35" fill="#000000"/>
<line x1="388.5" y1="286" x2="388.5" y2="291" stroke="#000000" stroke-width="1.2" stroke-opacity="0.85"/>
<circle cx="388.5" cy="288.5" r="2.35" fill="#000000"/>
<line x1="390.2" y1="289" x2="390.2" y2="295.5" stroke="#000000" stroke-width="1.2" stroke-opacity="0.85"/>
<circle cx="390.2" cy="292.3" r="2.35" fill="#000000"/>
<line x1="392.8" y1="289" x2="392.8" y2="294.5" stroke="#000000" stroke-width="1.2" stroke-opacity="0.85"/>
<circle cx="392.8" cy="291.8" r="2.35" fill="#000000"/>
<line x1="397.2" y1="281.7" x2="397.2" y2="289.6" stroke="#000000" stroke-width="1.2" stroke-opacity="0.85"/>
<circle cx="397.2" cy="285.8" r="2.35" fill="#000000"/>
<line x1="401.2" y1="290" x2="401.2" y2="295" stroke="#000000" stroke-width="1.2" stroke-opacity="0.85"/>
<circle cx="401.2" cy="292.6" r="2.35" fill="#000000"/>
<line x1="404.6" y1="288" x2="404.6" y2="293" stroke="#000000" stroke-width="1.2" stroke-opacity="0.85"/>
<circle cx="404.6" cy="290.5" r="2.35" fill="#000000"/>
<line x1="430.8" y1="282" x2="430.8" y2="289.6" stroke="#000000" stroke-width="1.2" stroke-opacity="0.85"/>
<circle cx="430.8" cy="285.9" r="2.35" fill="#000000"/>
<line x1="479.5" y1="279.3" x2="479.5" y2="291.5" stroke="#000000" stroke-width="1.2" stroke-opacity="0.85"/>
<circle cx="479.5" cy="285.6" r="2.35" fill="#000000"/>
<line x1="391" y1="284" x2="391" y2="289.5" stroke="#008b00" stroke-width="1.2" stroke-opacity="0.85"/>
<circle cx="391" cy="286.7" r="2.35" fill="#008b00"/>
<line x1="394.9" y1="277.4" x2="394.9" y2="283.5" stroke="#008b00" stroke-width="1.2" stroke-opacity="0.85"/>
<circle cx="394.9" cy="280.5" r="2.35" fill="#008b00"/>
<line x1="411.1" y1="298.4" x2="411.1" y2="307.2" stroke="#008b00" stroke-width="1.2" stroke-opacity="0.85"/>
<circle cx="411.1" cy="302.8" r="2.35" fill="#008b00"/>
<line x1="414.4" y1="253.2" x2="414.4" y2="266.5" stroke="#008b00" stroke-width="1.2" stroke-opacity="0.85"/>
<circle cx="414.4" cy="259.8" r="2.35" fill="#008b00"/>
<line x1="422.3" y1="242.3" x2="422.3" y2="262.1" stroke="#008b00" stroke-width="1.2" stroke-opacity="0.85"/>
<circle cx="422.3" cy="252.3" r="2.35" fill="#008b00"/>
<line x1="484.3" y1="209" x2="484.3" y2="232.6" stroke="#008b00" stroke-width="1.2" stroke-opacity="0.85"/>
<circle cx="484.3" cy="221" r="2.35" fill="#008b00"/>
<polygon points="381.4,280.49 383.48,280.66 385.55,280.78 387.63,280.86 389.71,280.89 391.78,280.87 393.86,280.81 395.93,280.71 398.01,280.56 400.09,280.38 402.16,280.16 404.24,279.9 406.32,279.6 408.39,279.27 410.47,278.9 412.54,278.5 414.62,278.07 416.7,277.6 418.77,277.11 420.85,276.59 422.93,276.04 425,275.47 427.08,274.87 429.15,274.25 431.23,273.6 433.31,272.94 435.38,272.25 437.46,271.54 439.54,270.82 441.61,270.08 443.69,269.33 445.76,268.56 447.84,267.78 449.92,266.98 451.99,266.18 454.07,265.37 456.15,264.54 458.22,263.71 460.3,262.88 462.37,262.04 464.45,261.2 466.53,260.35 468.6,259.5 470.68,258.66 472.76,257.81 474.83,256.97 476.91,256.13 478.98,255.29 481.06,254.46 483.14,253.64 485.21,252.83 487.29,252.02 489.37,251.23 491.44,250.45 493.52,249.68 495.59,248.93 497.67,248.19 499.75,247.46 501.82,246.76 503.9,246.07 503.9,285.75 501.82,285.62 499.75,285.5 497.67,285.41 495.59,285.33 493.52,285.27 491.44,285.23 489.37,285.2 487.29,285.19 485.21,285.19 483.14,285.21 481.06,285.25 478.98,285.3 476.91,285.36 474.83,285.45 472.76,285.54 470.68,285.65 468.6,285.78 466.53,285.91 464.45,286.07 462.37,286.23 460.3,286.41 458.22,286.6 456.15,286.81 454.07,287.03 451.99,287.26 449.92,287.5 447.84,287.76 445.76,288.02 443.69,288.3 441.61,288.59 439.54,288.89 437.46,289.2 435.38,289.53 433.31,289.86 431.23,290.2 429.15,290.56 427.08,290.92 425,291.29 422.93,291.68 420.85,292.07 418.77,292.47 416.7,292.88 414.62,293.3 412.54,293.72 410.47,294.16 408.39,294.6 406.32,295.05 404.24,295.51 402.16,295.98 400.09,296.45 398.01,296.93 395.93,297.41 393.86,297.91 391.78,298.4 389.71,298.91 387.63,299.42 385.55,299.93 383.48,300.46 381.4,300.98" fill="#999999" fill-opacity="0.4"/>
<path d="M381.4,291.4 L503.9,266.1" fill="none" stroke="#0000ff" stroke-width="2.3" stroke-linejoin="round"/>
<path d="M375.7,204.5 L375.7,312.8 L509.4,312.8" fill="none" stroke="#2e2e2e" stroke-width="1.35" stroke-linecap="square"/>
<line x1="372.7" y1="222" x2="375.7" y2="222" stroke="#333333" stroke-width="1.35"/>
<text transform="translate(370.2,225.3) scale(0.86,1)" text-anchor="end" class="tk">7.5</text>
<line x1="372.7" y1="245.1" x2="375.7" y2="245.1" stroke="#333333" stroke-width="1.35"/>
<text transform="translate(370.2,248.4) scale(0.86,1)" text-anchor="end" class="tk">5.0</text>
<line x1="372.7" y1="268.3" x2="375.7" y2="268.3" stroke="#333333" stroke-width="1.35"/>
<text transform="translate(370.2,271.6) scale(0.86,1)" text-anchor="end" class="tk">2.5</text>
<line x1="372.7" y1="291.4" x2="375.7" y2="291.4" stroke="#333333" stroke-width="1.35"/>
<text transform="translate(370.2,294.7) scale(0.86,1)" text-anchor="end" class="tk">0.0</text>
<line x1="381.6" y1="312.8" x2="381.6" y2="315.8" stroke="#333333" stroke-width="1.35"/>
<text transform="translate(381.6,323.6) scale(0.86,1)" text-anchor="middle" class="tk">0</text>
<line x1="414.3" y1="312.8" x2="414.3" y2="315.8" stroke="#333333" stroke-width="1.35"/>
<text transform="translate(414.3,323.6) scale(0.86,1)" text-anchor="middle" class="tk">20</text>
<line x1="447" y1="312.8" x2="447" y2="315.8" stroke="#333333" stroke-width="1.35"/>
<text transform="translate(447,323.6) scale(0.86,1)" text-anchor="middle" class="tk">40</text>
<line x1="479.7" y1="312.8" x2="479.7" y2="315.8" stroke="#333333" stroke-width="1.35"/>
<text transform="translate(479.7,323.6) scale(0.86,1)" text-anchor="middle" class="tk">60</text>
<text x="442.55" y="336" text-anchor="middle" class="ax">Storage Time (days)</text>
<text transform="translate(355.3,259.25) rotate(-90)" text-anchor="middle" class="ax">g</text>
<text x="375.7" y="184.2" class="ti">G. Lightness</text>
<text transform="translate(375.7,197.6) scale(0.95,1)" class="st">R<tspan class="sup" dy="-1.4">²</tspan><tspan dy="1.4" dx="0.3"> </tspan>= 0.165 , p = 0.054 , Model = L</text>
<line x1="552.2" y1="215" x2="552.2" y2="218.6" stroke="#000000" stroke-width="1.2" stroke-opacity="0.85"/>
<circle cx="552.2" cy="216.8" r="2.35" fill="#000000"/>
<line x1="570" y1="211.7" x2="570" y2="222.2" stroke="#000000" stroke-width="1.2" stroke-opacity="0.85"/>
<circle cx="570" cy="216.8" r="2.35" fill="#000000"/>
<line x1="555.2" y1="220" x2="555.2" y2="225.5" stroke="#000000" stroke-width="1.2" stroke-opacity="0.85"/>
<circle cx="555.2" cy="222.9" r="2.35" fill="#000000"/>
<line x1="558" y1="217" x2="558" y2="223.5" stroke="#000000" stroke-width="1.2" stroke-opacity="0.85"/>
<circle cx="558" cy="220.4" r="2.35" fill="#000000"/>
<line x1="560.4" y1="226" x2="560.4" y2="231" stroke="#008b00" stroke-width="1.2" stroke-opacity="0.85"/>
<circle cx="560.4" cy="228.5" r="2.35" fill="#008b00"/>
<line x1="564.1" y1="224.5" x2="564.1" y2="229.5" stroke="#008b00" stroke-width="1.2" stroke-opacity="0.85"/>
<circle cx="564.1" cy="226.9" r="2.35" fill="#008b00"/>
<line x1="568.1" y1="229" x2="568.1" y2="233" stroke="#008b00" stroke-width="1.2" stroke-opacity="0.85"/>
<circle cx="568.1" cy="231.1" r="2.35" fill="#008b00"/>
<line x1="572" y1="227.5" x2="572" y2="232.5" stroke="#008b00" stroke-width="1.2" stroke-opacity="0.85"/>
<circle cx="572" cy="229.9" r="2.35" fill="#008b00"/>
<line x1="575.8" y1="224" x2="575.8" y2="232.8" stroke="#008b00" stroke-width="1.2" stroke-opacity="0.85"/>
<circle cx="575.8" cy="228.1" r="2.35" fill="#008b00"/>
<line x1="580" y1="235" x2="580" y2="245.6" stroke="#008b00" stroke-width="1.2" stroke-opacity="0.85"/>
<circle cx="580" cy="240.5" r="2.35" fill="#008b00"/>
<line x1="588" y1="222.9" x2="588" y2="233.9" stroke="#008b00" stroke-width="1.2" stroke-opacity="0.85"/>
<circle cx="588" cy="228.5" r="2.35" fill="#008b00"/>
<line x1="582.1" y1="256.1" x2="582.1" y2="274.4" stroke="#008b00" stroke-width="1.2" stroke-opacity="0.85"/>
<circle cx="582.1" cy="265.5" r="2.35" fill="#008b00"/>
<line x1="594.3" y1="233.5" x2="594.3" y2="248" stroke="#008b00" stroke-width="1.2" stroke-opacity="0.85"/>
<circle cx="594.3" cy="240.5" r="2.35" fill="#008b00"/>
<line x1="600.1" y1="236.3" x2="600.1" y2="248.4" stroke="#008b00" stroke-width="1.2" stroke-opacity="0.85"/>
<circle cx="600.1" cy="242.1" r="2.35" fill="#008b00"/>
<line x1="606.2" y1="238.6" x2="606.2" y2="253.7" stroke="#008b00" stroke-width="1.2" stroke-opacity="0.85"/>
<circle cx="606.2" cy="246.3" r="2.35" fill="#008b00"/>
<line x1="678.2" y1="275" x2="678.2" y2="299.6" stroke="#008b00" stroke-width="1.2" stroke-opacity="0.85"/>
<circle cx="678.2" cy="287.2" r="2.35" fill="#008b00"/>
<polygon points="551.9,209.89 554.04,211.21 556.17,212.53 558.31,213.83 560.44,215.12 562.58,216.4 564.71,217.67 566.85,218.92 568.98,220.16 571.12,221.4 573.26,222.61 575.39,223.82 577.53,225.01 579.66,226.2 581.8,227.37 583.93,228.52 586.07,229.67 588.21,230.8 590.34,231.92 592.48,233.03 594.61,234.12 596.75,235.2 598.88,236.27 601.02,237.33 603.15,238.37 605.29,239.4 607.43,240.41 609.56,241.42 611.7,242.41 613.83,243.39 615.97,244.35 618.1,245.3 620.24,246.24 622.37,247.16 624.51,248.08 626.65,248.97 628.78,249.86 630.92,250.73 633.05,251.59 635.19,252.43 637.32,253.26 639.46,254.07 641.59,254.88 643.73,255.66 645.87,256.44 648,257.2 650.14,257.94 652.27,258.68 654.41,259.4 656.54,260.1 658.68,260.79 660.82,261.46 662.95,262.13 665.09,262.77 667.22,263.4 669.36,264.02 671.49,264.63 673.63,265.21 675.76,265.79 677.9,266.35 677.9,305.93 675.76,304.77 673.63,303.58 671.49,302.35 669.36,301.1 667.22,299.82 665.09,298.52 662.95,297.19 660.82,295.83 658.68,294.46 656.54,293.07 654.41,291.66 652.27,290.23 650.14,288.78 648,287.32 645.87,285.85 643.73,284.37 641.59,282.87 639.46,281.37 637.32,279.86 635.19,278.35 633.05,276.83 630.92,275.3 628.78,273.78 626.65,272.25 624.51,270.73 622.37,269.21 620.24,267.69 618.1,266.18 615.97,264.68 613.83,263.18 611.7,261.7 609.56,260.22 607.43,258.76 605.29,257.31 603.15,255.87 601.02,254.46 598.88,253.06 596.75,251.68 594.61,250.32 592.48,248.99 590.34,247.67 588.21,246.39 586.07,245.13 583.93,243.89 581.8,242.69 579.66,241.52 577.53,240.38 575.39,239.28 573.26,238.2 571.12,237.17 568.98,236.17 566.85,235.22 564.71,234.3 562.58,233.43 560.44,232.6 558.31,231.81 556.17,231.07 554.04,230.38 551.9,229.74" fill="#999999" fill-opacity="0.4"/>
<path d="M551.9,219.38 L554.04,220.58 L556.17,221.77 L558.31,222.97 L560.44,224.16 L562.58,225.35 L564.71,226.53 L566.85,227.72 L568.98,228.91 L571.12,230.09 L573.26,231.27 L575.39,232.45 L577.53,233.63 L579.66,234.8 L581.8,235.98 L583.93,237.15 L586.07,238.32 L588.21,239.49 L590.34,240.65 L592.48,241.82 L594.61,242.98 L596.75,244.14 L598.88,245.3 L601.02,246.46 L603.15,247.62 L605.29,248.77 L607.43,249.93 L609.56,251.08 L611.7,252.23 L613.83,253.37 L615.97,254.52 L618.1,255.66 L620.24,256.8 L622.37,257.94 L624.51,259.08 L626.65,260.22 L628.78,261.35 L630.92,262.49 L633.05,263.62 L635.19,264.75 L637.32,265.88 L639.46,267 L641.59,268.13 L643.73,269.25 L645.87,270.37 L648,271.49 L650.14,272.61 L652.27,273.72 L654.41,274.84 L656.54,275.95 L658.68,277.06 L660.82,278.17 L662.95,279.27 L665.09,280.38 L667.22,281.48 L669.36,282.58 L671.49,283.68 L673.63,284.78 L675.76,285.88 L677.9,286.97" fill="none" stroke="#ff0000" stroke-width="2.3" stroke-linejoin="round"/>
<path d="M545.8,204.5 L545.8,313 L685,313" fill="none" stroke="#2e2e2e" stroke-width="1.35" stroke-linecap="square"/>
<line x1="542.8" y1="216.8" x2="545.8" y2="216.8" stroke="#333333" stroke-width="1.35"/>
<text transform="translate(540.3,220.1) scale(0.86,1)" text-anchor="end" class="tk">0</text>
<line x1="542.8" y1="249.1" x2="545.8" y2="249.1" stroke="#333333" stroke-width="1.35"/>
<text transform="translate(540.3,252.4) scale(0.86,1)" text-anchor="end" class="tk">-4</text>
<line x1="542.8" y1="281.4" x2="545.8" y2="281.4" stroke="#333333" stroke-width="1.35"/>
<text transform="translate(540.3,284.7) scale(0.86,1)" text-anchor="end" class="tk">-8</text>
<line x1="552.2" y1="313" x2="552.2" y2="316" stroke="#333333" stroke-width="1.35"/>
<text transform="translate(552.2,323.8) scale(0.86,1)" text-anchor="middle" class="tk">0</text>
<line x1="592.2" y1="313" x2="592.2" y2="316" stroke="#333333" stroke-width="1.35"/>
<text transform="translate(592.2,323.8) scale(0.86,1)" text-anchor="middle" class="tk">20</text>
<line x1="632.2" y1="313" x2="632.2" y2="316" stroke="#333333" stroke-width="1.35"/>
<text transform="translate(632.2,323.8) scale(0.86,1)" text-anchor="middle" class="tk">40</text>
<line x1="672.2" y1="313" x2="672.2" y2="316" stroke="#333333" stroke-width="1.35"/>
<text transform="translate(672.2,323.8) scale(0.86,1)" text-anchor="middle" class="tk">60</text>
<text x="615.4" y="336.2" text-anchor="middle" class="ax">Storage Time (days)</text>
<text transform="translate(529.36,259.35) rotate(-90)" text-anchor="middle" class="ax">g</text>
<text x="545.8" y="184.2" class="ti">H. Decay incidence</text>
<text transform="translate(545.8,197.6) scale(0.95,1)" class="st">R<tspan class="sup" dy="-1.4">²</tspan><tspan dy="1.4" dx="0.3"> </tspan>= 0.759 , p = &lt;0.001 , Model = Q</text>
<line x1="27.2" y1="461.5" x2="27.2" y2="465" stroke="#000000" stroke-width="1.2" stroke-opacity="0.85"/>
<circle cx="27.2" cy="463.2" r="2.35" fill="#000000"/>
<line x1="46.7" y1="449.5" x2="46.7" y2="456.5" stroke="#000000" stroke-width="1.2" stroke-opacity="0.85"/>
<circle cx="46.7" cy="452.9" r="2.35" fill="#000000"/>
<line x1="69.9" y1="455" x2="69.9" y2="479.7" stroke="#000000" stroke-width="1.2" stroke-opacity="0.85"/>
<circle cx="69.9" cy="467.1" r="2.35" fill="#000000"/>
<line x1="91.3" y1="457.5" x2="91.3" y2="480.5" stroke="#000000" stroke-width="1.2" stroke-opacity="0.85"/>
<circle cx="91.3" cy="469.4" r="2.35" fill="#000000"/>
<line x1="112.4" y1="442.3" x2="112.4" y2="458.3" stroke="#000000" stroke-width="1.2" stroke-opacity="0.85"/>
<circle cx="112.4" cy="450.4" r="2.35" fill="#000000"/>
<line x1="155.5" y1="432.2" x2="155.5" y2="458" stroke="#000000" stroke-width="1.2" stroke-opacity="0.85"/>
<circle cx="155.5" cy="445.3" r="2.35" fill="#000000"/>
<line x1="62.6" y1="418.2" x2="62.6" y2="456.1" stroke="#000000" stroke-width="1.2" stroke-opacity="0.85"/>
<circle cx="62.6" cy="437.5" r="2.35" fill="#000000"/>
<line x1="61.1" y1="440" x2="61.1" y2="448" stroke="#000000" stroke-width="1.2" stroke-opacity="0.85"/>
<circle cx="61.1" cy="443.9" r="2.35" fill="#000000"/>
<line x1="83.6" y1="436.2" x2="83.6" y2="456.1" stroke="#000000" stroke-width="1.2" stroke-opacity="0.85"/>
<circle cx="83.6" cy="446.5" r="2.35" fill="#000000"/>
<line x1="33.9" y1="401.4" x2="33.9" y2="424" stroke="#008b00" stroke-width="1.2" stroke-opacity="0.85"/>
<circle cx="33.9" cy="412.6" r="2.35" fill="#008b00"/>
<line x1="49.7" y1="407.5" x2="49.7" y2="434.7" stroke="#008b00" stroke-width="1.2" stroke-opacity="0.85"/>
<circle cx="49.7" cy="421.2" r="2.35" fill="#008b00"/>
<line x1="65.4" y1="416" x2="65.4" y2="442.2" stroke="#008b00" stroke-width="1.2" stroke-opacity="0.85"/>
<circle cx="65.4" cy="429.8" r="2.35" fill="#008b00"/>
<line x1="116.7" y1="382.7" x2="116.7" y2="428.3" stroke="#008b00" stroke-width="1.2" stroke-opacity="0.85"/>
<circle cx="116.7" cy="406" r="2.35" fill="#008b00"/>
<line x1="141.3" y1="387.3" x2="141.3" y2="410.6" stroke="#008b00" stroke-width="1.2" stroke-opacity="0.85"/>
<circle cx="141.3" cy="398.7" r="2.35" fill="#008b00"/>
<line x1="56.8" y1="445" x2="56.8" y2="453" stroke="#008b00" stroke-width="1.2" stroke-opacity="0.85"/>
<circle cx="56.8" cy="449.1" r="2.35" fill="#008b00"/>
<line x1="66.9" y1="444.5" x2="66.9" y2="451.5" stroke="#008b00" stroke-width="1.2" stroke-opacity="0.85"/>
<circle cx="66.9" cy="448" r="2.35" fill="#008b00"/>
<line x1="29" y1="446" x2="29" y2="453" stroke="#008b00" stroke-width="1.2" stroke-opacity="0.85"/>
<circle cx="29" cy="449.5" r="2.35" fill="#008b00"/>
<line x1="31.2" y1="440" x2="31.2" y2="449" stroke="#008b00" stroke-width="1.2" stroke-opacity="0.85"/>
<circle cx="31.2" cy="444.5" r="2.35" fill="#008b00"/>
<line x1="31.2" y1="446.5" x2="31.2" y2="453.5" stroke="#008b00" stroke-width="1.2" stroke-opacity="0.85"/>
<circle cx="31.2" cy="449.9" r="2.35" fill="#008b00"/>
<line x1="33.4" y1="446.5" x2="33.4" y2="454" stroke="#008b00" stroke-width="1.2" stroke-opacity="0.85"/>
<circle cx="33.4" cy="450.2" r="2.35" fill="#008b00"/>
<line x1="35.9" y1="445" x2="35.9" y2="452.5" stroke="#008b00" stroke-width="1.2" stroke-opacity="0.85"/>
<circle cx="35.9" cy="448.8" r="2.35" fill="#008b00"/>
<line x1="37" y1="446.6" x2="37" y2="456" stroke="#008b00" stroke-width="1.2" stroke-opacity="0.85"/>
<circle cx="37" cy="451" r="2.35" fill="#008b00"/>
<line x1="38.4" y1="436.5" x2="38.4" y2="444.5" stroke="#008b00" stroke-width="1.2" stroke-opacity="0.85"/>
<circle cx="38.4" cy="440.5" r="2.35" fill="#008b00"/>
<line x1="39.5" y1="445.5" x2="39.5" y2="453.5" stroke="#008b00" stroke-width="1.2" stroke-opacity="0.85"/>
<circle cx="39.5" cy="449.5" r="2.35" fill="#008b00"/>
<line x1="41.3" y1="431" x2="41.3" y2="441" stroke="#008b00" stroke-width="1.2" stroke-opacity="0.85"/>
<circle cx="41.3" cy="436.9" r="2.35" fill="#008b00"/>
<line x1="43.5" y1="442" x2="43.5" y2="449" stroke="#008b00" stroke-width="1.2" stroke-opacity="0.85"/>
<circle cx="43.5" cy="445.9" r="2.35" fill="#008b00"/>
<line x1="44.9" y1="444" x2="44.9" y2="450.5" stroke="#008b00" stroke-width="1.2" stroke-opacity="0.85"/>
<circle cx="44.9" cy="447.3" r="2.35" fill="#008b00"/>
<line x1="48.5" y1="439.4" x2="48.5" y2="446.6" stroke="#008b00" stroke-width="1.2" stroke-opacity="0.85"/>
<circle cx="48.5" cy="443" r="2.35" fill="#008b00"/>
<line x1="51.7" y1="427" x2="51.7" y2="446" stroke="#008b00" stroke-width="1.2" stroke-opacity="0.85"/>
<circle cx="51.7" cy="436.5" r="2.35" fill="#008b00"/>
<line x1="54.3" y1="436.5" x2="54.3" y2="443.5" stroke="#008b00" stroke-width="1.2" stroke-opacity="0.85"/>
<circle cx="54.3" cy="440.1" r="2.35" fill="#008b00"/>
<line x1="55.7" y1="434.4" x2="55.7" y2="446.6" stroke="#008b00" stroke-width="1.2" stroke-opacity="0.85"/>
<circle cx="55.7" cy="440.9" r="2.35" fill="#008b00"/>
<polygon points="27.1,438.09 29.27,438.26 31.44,438.4 33.61,438.5 35.78,438.56 37.95,438.58 40.12,438.57 42.29,438.52 44.46,438.43 46.63,438.32 48.79,438.17 50.96,437.99 53.13,437.78 55.3,437.54 57.47,437.27 59.64,436.98 61.81,436.65 63.98,436.3 66.15,435.93 68.32,435.53 70.49,435.11 72.66,434.66 74.83,434.2 77,433.71 79.17,433.2 81.34,432.68 83.51,432.13 85.68,431.57 87.85,431 90.02,430.4 92.18,429.8 94.35,429.18 96.52,428.54 98.69,427.9 100.86,427.24 103.03,426.58 105.2,425.9 107.37,425.22 109.54,424.53 111.71,423.83 113.88,423.13 116.05,422.43 118.22,421.72 120.39,421 122.56,420.29 124.73,419.57 126.9,418.86 129.07,418.14 131.24,417.43 133.41,416.72 135.57,416.01 137.74,415.31 139.91,414.61 142.08,413.92 144.25,413.23 146.42,412.56 148.59,411.89 150.76,411.23 152.93,410.59 155.1,409.95 155.1,446.64 152.93,446.57 150.76,446.5 148.59,446.44 146.42,446.37 144.25,446.3 142.08,446.23 139.91,446.16 137.74,446.1 135.57,446.04 133.41,445.97 131.24,445.92 129.07,445.86 126.9,445.81 124.73,445.77 122.56,445.73 120.39,445.69 118.22,445.66 116.05,445.64 113.88,445.62 111.71,445.61 109.54,445.61 107.37,445.61 105.2,445.63 103.03,445.65 100.86,445.69 98.69,445.73 96.52,445.78 94.35,445.85 92.18,445.92 90.02,446.01 87.85,446.11 85.68,446.22 83.51,446.35 81.34,446.49 79.17,446.64 77,446.81 74.83,446.99 72.66,447.19 70.49,447.41 68.32,447.64 66.15,447.89 63.98,448.15 61.81,448.44 59.64,448.74 57.47,449.06 55.3,449.4 53.13,449.76 50.96,450.14 48.79,450.54 46.63,450.96 44.46,451.4 42.29,451.87 40.12,452.35 37.95,452.87 35.78,453.4 33.61,453.96 31.44,454.54 29.27,455.15 27.1,455.78" fill="#999999" fill-opacity="0.4"/>
<path d="M27.1,446.9 L155.1,428.7" fill="none" stroke="#0000ff" stroke-width="2.3" stroke-linejoin="round"/>
<path d="M20.4,380.9 L20.4,486.8 L161.1,486.8" fill="none" stroke="#2e2e2e" stroke-width="1.35" stroke-linecap="square"/>
<line x1="17.4" y1="384.3" x2="20.4" y2="384.3" stroke="#333333" stroke-width="1.35"/>
<text transform="translate(14.9,387.6) scale(0.86,1)" text-anchor="end" class="tk">3</text>
<line x1="17.4" y1="410.05" x2="20.4" y2="410.05" stroke="#333333" stroke-width="1.35"/>
<text transform="translate(14.9,413.35) scale(0.86,1)" text-anchor="end" class="tk">2</text>
<line x1="17.4" y1="435.8" x2="20.4" y2="435.8" stroke="#333333" stroke-width="1.35"/>
<text transform="translate(14.9,439.1) scale(0.86,1)" text-anchor="end" class="tk">1</text>
<line x1="17.4" y1="461.5" x2="20.4" y2="461.5" stroke="#333333" stroke-width="1.35"/>
<text transform="translate(14.9,464.8) scale(0.86,1)" text-anchor="end" class="tk">0</text>
<line x1="27.2" y1="486.8" x2="27.2" y2="489.8" stroke="#333333" stroke-width="1.35"/>
<text transform="translate(27.2,497.6) scale(0.86,1)" text-anchor="middle" class="tk">0</text>
<line x1="62.78" y1="486.8" x2="62.78" y2="489.8" stroke="#333333" stroke-width="1.35"/>
<text transform="translate(62.78,497.6) scale(0.86,1)" text-anchor="middle" class="tk">25</text>
<line x1="98.36" y1="486.8" x2="98.36" y2="489.8" stroke="#333333" stroke-width="1.35"/>
<text transform="translate(98.36,497.6) scale(0.86,1)" text-anchor="middle" class="tk">50</text>
<line x1="133.94" y1="486.8" x2="133.94" y2="489.8" stroke="#333333" stroke-width="1.35"/>
<text transform="translate(133.94,497.6) scale(0.86,1)" text-anchor="middle" class="tk">75</text>
<text x="90.75" y="510.4" text-anchor="middle" class="ax">Storage Time (days)</text>
<text transform="translate(6.6,434.45) rotate(-90)" text-anchor="middle" class="ax">g</text>
<text x="20.4" y="358.3" class="ti">I. Firmness</text>
<text transform="translate(20.4,371.6) scale(0.95,1)" class="st">R<tspan class="sup" dy="-1.4">²</tspan><tspan dy="1.4" dx="0.3"> </tspan>= 0.092 , p = 0.117 , Model = L</text>
<line x1="203.8" y1="386.5" x2="203.8" y2="390.5" stroke="#000000" stroke-width="1.2" stroke-opacity="0.85"/>
<circle cx="203.8" cy="388.5" r="2.35" fill="#000000"/>
<line x1="213.6" y1="383.3" x2="213.6" y2="390.3" stroke="#000000" stroke-width="1.2" stroke-opacity="0.85"/>
<circle cx="213.6" cy="386.8" r="2.35" fill="#000000"/>
<line x1="223.5" y1="389.1" x2="223.5" y2="397.3" stroke="#000000" stroke-width="1.2" stroke-opacity="0.85"/>
<circle cx="223.5" cy="393.2" r="2.35" fill="#000000"/>
<line x1="233.1" y1="390.9" x2="233.1" y2="399.1" stroke="#000000" stroke-width="1.2" stroke-opacity="0.85"/>
<circle cx="233.1" cy="395" r="2.35" fill="#000000"/>
<line x1="243" y1="389.1" x2="243" y2="397.3" stroke="#000000" stroke-width="1.2" stroke-opacity="0.85"/>
<circle cx="243" cy="393.2" r="2.35" fill="#000000"/>
<line x1="329.6" y1="393.3" x2="329.6" y2="411.1" stroke="#000000" stroke-width="1.2" stroke-opacity="0.85"/>
<circle cx="329.6" cy="402.2" r="2.35" fill="#000000"/>
<line x1="206.2" y1="393" x2="206.2" y2="399.5" stroke="#008b00" stroke-width="1.2" stroke-opacity="0.85"/>
<circle cx="206.2" cy="396.1" r="2.35" fill="#008b00"/>
<line x1="207.9" y1="393.5" x2="207.9" y2="400" stroke="#008b00" stroke-width="1.2" stroke-opacity="0.85"/>
<circle cx="207.9" cy="396.7" r="2.35" fill="#008b00"/>
<line x1="209.7" y1="394" x2="209.7" y2="400.5" stroke="#008b00" stroke-width="1.2" stroke-opacity="0.85"/>
<circle cx="209.7" cy="397.3" r="2.35" fill="#008b00"/>
<line x1="211.5" y1="396" x2="211.5" y2="403" stroke="#008b00" stroke-width="1.2" stroke-opacity="0.85"/>
<circle cx="211.5" cy="399.6" r="2.35" fill="#008b00"/>
<line x1="213.2" y1="395.5" x2="213.2" y2="402.5" stroke="#008b00" stroke-width="1.2" stroke-opacity="0.85"/>
<circle cx="213.2" cy="399" r="2.35" fill="#008b00"/>
<line x1="215" y1="397" x2="215" y2="403.5" stroke="#008b00" stroke-width="1.2" stroke-opacity="0.85"/>
<circle cx="215" cy="400.2" r="2.35" fill="#008b00"/>
<line x1="216.7" y1="397.5" x2="216.7" y2="404" stroke="#008b00" stroke-width="1.2" stroke-opacity="0.85"/>
<circle cx="216.7" cy="400.8" r="2.35" fill="#008b00"/>
<line x1="219.1" y1="397" x2="219.1" y2="403.5" stroke="#008b00" stroke-width="1.2" stroke-opacity="0.85"/>
<circle cx="219.1" cy="400.2" r="2.35" fill="#008b00"/>
<line x1="221.4" y1="397.5" x2="221.4" y2="404" stroke="#008b00" stroke-width="1.2" stroke-opacity="0.85"/>
<circle cx="221.4" cy="400.8" r="2.35" fill="#008b00"/>
<line x1="210.9" y1="401" x2="210.9" y2="409.6" stroke="#008b00" stroke-width="1.2" stroke-opacity="0.85"/>
<circle cx="210.9" cy="404.9" r="2.35" fill="#008b00"/>
<line x1="217.9" y1="404" x2="217.9" y2="412.5" stroke="#008b00" stroke-width="1.2" stroke-opacity="0.85"/>
<circle cx="217.9" cy="407.8" r="2.35" fill="#008b00"/>
<line x1="224.9" y1="408.5" x2="224.9" y2="414.2" stroke="#008b00" stroke-width="1.2" stroke-opacity="0.85"/>
<circle cx="224.9" cy="411.3" r="2.35" fill="#008b00"/>
<line x1="226.1" y1="411.5" x2="226.1" y2="425.3" stroke="#008b00" stroke-width="1.2" stroke-opacity="0.85"/>
<circle cx="226.1" cy="418.4" r="2.35" fill="#008b00"/>
<line x1="231.9" y1="413.1" x2="231.9" y2="421.7" stroke="#008b00" stroke-width="1.2" stroke-opacity="0.85"/>
<circle cx="231.9" cy="417.4" r="2.35" fill="#008b00"/>
<line x1="237.5" y1="422.4" x2="237.5" y2="436.2" stroke="#008b00" stroke-width="1.2" stroke-opacity="0.85"/>
<circle cx="237.5" cy="429.2" r="2.35" fill="#008b00"/>
<line x1="229.1" y1="428" x2="229.1" y2="449" stroke="#008b00" stroke-width="1.2" stroke-opacity="0.85"/>
<circle cx="229.1" cy="438.5" r="2.35" fill="#008b00"/>
<line x1="238.7" y1="455.4" x2="238.7" y2="481.8" stroke="#008b00" stroke-width="1.2" stroke-opacity="0.85"/>
<circle cx="238.7" cy="468.7" r="2.35" fill="#008b00"/>
<line x1="245.7" y1="403.1" x2="245.7" y2="415.5" stroke="#008b00" stroke-width="1.2" stroke-opacity="0.85"/>
<circle cx="245.7" cy="409.3" r="2.35" fill="#008b00"/>
<line x1="259.8" y1="420.3" x2="259.8" y2="437.8" stroke="#008b00" stroke-width="1.2" stroke-opacity="0.85"/>
<circle cx="259.8" cy="429.1" r="2.35" fill="#008b00"/>
<line x1="287.7" y1="406.8" x2="287.7" y2="419.5" stroke="#008b00" stroke-width="1.2" stroke-opacity="0.85"/>
<circle cx="287.7" cy="413.1" r="2.35" fill="#008b00"/>
<line x1="292" y1="419.5" x2="292" y2="440.5" stroke="#008b00" stroke-width="1.2" stroke-opacity="0.85"/>
<circle cx="292" cy="429.9" r="2.35" fill="#008b00"/>
<line x1="315.6" y1="422" x2="315.6" y2="439.8" stroke="#008b00" stroke-width="1.2" stroke-opacity="0.85"/>
<circle cx="315.6" cy="430.9" r="2.35" fill="#008b00"/>
<polygon points="204.1,394.5 206.23,395.17 208.35,395.82 210.48,396.44 212.6,397.05 214.73,397.63 216.85,398.19 218.98,398.73 221.1,399.24 223.23,399.74 225.35,400.21 227.48,400.67 229.61,401.11 231.73,401.53 233.86,401.93 235.98,402.31 238.11,402.68 240.23,403.02 242.36,403.36 244.48,403.67 246.61,403.97 248.73,404.25 250.86,404.52 252.98,404.78 255.11,405.02 257.24,405.25 259.36,405.46 261.49,405.66 263.61,405.85 265.74,406.03 267.86,406.2 269.99,406.35 272.11,406.5 274.24,406.63 276.36,406.76 278.49,406.87 280.62,406.98 282.74,407.08 284.87,407.17 286.99,407.25 289.12,407.33 291.24,407.4 293.37,407.46 295.49,407.52 297.62,407.57 299.74,407.62 301.87,407.66 303.99,407.7 306.12,407.73 308.25,407.76 310.37,407.79 312.5,407.82 314.62,407.84 316.75,407.87 318.87,407.89 321,407.91 323.12,407.93 325.25,407.95 327.37,407.98 329.5,408 329.5,449.69 327.37,448.84 325.25,447.99 323.12,447.13 321,446.27 318.87,445.4 316.75,444.54 314.62,443.67 312.5,442.81 310.37,441.94 308.25,441.08 306.12,440.21 303.99,439.35 301.87,438.5 299.74,437.64 297.62,436.79 295.49,435.95 293.37,435.11 291.24,434.28 289.12,433.46 286.99,432.64 284.87,431.83 282.74,431.04 280.62,430.25 278.49,429.47 276.36,428.7 274.24,427.94 272.11,427.2 269.99,426.47 267.86,425.76 265.74,425.05 263.61,424.37 261.49,423.7 259.36,423.04 257.24,422.4 255.11,421.78 252.98,421.18 250.86,420.6 248.73,420.04 246.61,419.5 244.48,418.98 242.36,418.48 240.23,418 238.11,417.55 235.98,417.12 233.86,416.71 231.73,416.33 229.61,415.98 227.48,415.65 225.35,415.35 223.23,415.08 221.1,414.83 218.98,414.61 216.85,414.43 214.73,414.27 212.6,414.15 210.48,414.06 208.35,414 206.23,413.97 204.1,413.97" fill="#999999" fill-opacity="0.4"/>
<path d="M204.1,403.3 L329.5,429.1" fill="none" stroke="#ff0000" stroke-width="2.3" stroke-linejoin="round"/>
<path d="M197.8,378.9 L197.8,486.8 L335.9,486.8" fill="none" stroke="#2e2e2e" stroke-width="1.35" stroke-linecap="square"/>
<line x1="194.8" y1="388.3" x2="197.8" y2="388.3" stroke="#333333" stroke-width="1.35"/>
<text transform="translate(192.3,391.6) scale(0.86,1)" text-anchor="end" class="tk">0</text>
<line x1="194.8" y1="420.35" x2="197.8" y2="420.35" stroke="#333333" stroke-width="1.35"/>
<text transform="translate(192.3,423.65) scale(0.86,1)" text-anchor="end" class="tk">-2</text>
<line x1="194.8" y1="452.4" x2="197.8" y2="452.4" stroke="#333333" stroke-width="1.35"/>
<text transform="translate(192.3,455.7) scale(0.86,1)" text-anchor="end" class="tk">-4</text>
<line x1="194.8" y1="484.45" x2="197.8" y2="484.45" stroke="#333333" stroke-width="1.35"/>
<text transform="translate(192.3,487.75) scale(0.86,1)" text-anchor="end" class="tk">-6</text>
<line x1="204" y1="486.8" x2="204" y2="489.8" stroke="#333333" stroke-width="1.35"/>
<text transform="translate(204,497.6) scale(0.86,1)" text-anchor="middle" class="tk">0</text>
<line x1="238.8" y1="486.8" x2="238.8" y2="489.8" stroke="#333333" stroke-width="1.35"/>
<text transform="translate(238.8,497.6) scale(0.86,1)" text-anchor="middle" class="tk">25</text>
<line x1="273.6" y1="486.8" x2="273.6" y2="489.8" stroke="#333333" stroke-width="1.35"/>
<text transform="translate(273.6,497.6) scale(0.86,1)" text-anchor="middle" class="tk">50</text>
<line x1="308.4" y1="486.8" x2="308.4" y2="489.8" stroke="#333333" stroke-width="1.35"/>
<text transform="translate(308.4,497.6) scale(0.86,1)" text-anchor="middle" class="tk">75</text>
<text x="266.85" y="510.4" text-anchor="middle" class="ax">Storage Time (days)</text>
<text transform="translate(181.36,433.45) rotate(-90)" text-anchor="middle" class="ax">g</text>
<text x="197.8" y="358.3" class="ti">J. Fresh weight loss</text>
<text transform="translate(197.8,371.6) scale(0.95,1)" class="st">R<tspan class="sup" dy="-1.4">²</tspan><tspan dy="1.4" dx="0.3"> </tspan>= 0.14 , p = 0.06 , Model = L</text>
</g>
</svg>
</body></html>
